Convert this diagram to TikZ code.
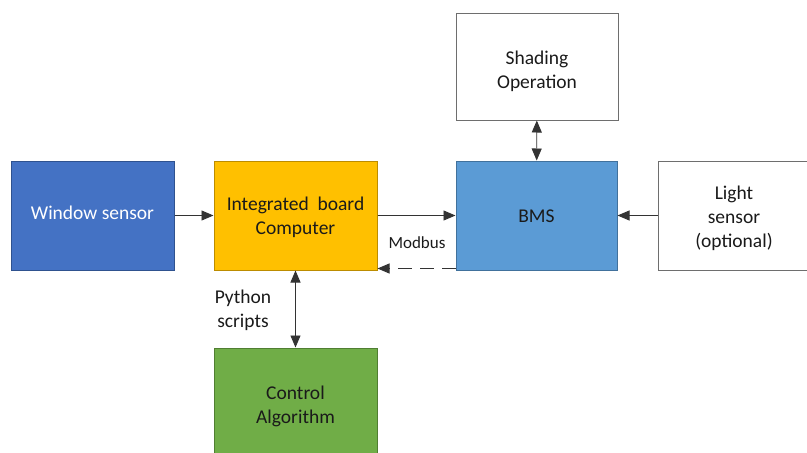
\documentclass[tikz,border=0pt]{standalone}
\usepackage{fontspec}
\setmainfont{Carlito}
\usetikzlibrary{arrows.meta}
\definecolor{winfill}{HTML}{4472C4}
\definecolor{winline}{HTML}{2F528F}
\definecolor{ibcfill}{HTML}{FFC000}
\definecolor{ibcline}{HTML}{BC8C00}
\definecolor{bmsfill}{HTML}{5B9BD5}
\definecolor{bmsline}{HTML}{41719C}
\definecolor{ctlfill}{HTML}{70AD47}
\definecolor{ctlline}{HTML}{507E32}
\definecolor{grayline}{HTML}{6E6E6E}
\definecolor{txt}{HTML}{1A1A1A}
\tikzset{
  blk/.style={draw, line width=1pt, inner sep=0pt},
  conn/.style={line width=0.9pt, draw=black!80, -{Triangle[length=12pt,width=10pt]}},
  bidir/.style={line width=0.9pt, draw=black!80, {Triangle[length=12pt,width=10pt]}-{Triangle[length=12pt,width=10pt]}},
  lbl/.style={inner sep=0pt, align=center, text=txt, font=\fontsize{19.5}{24}\selectfont}
}
\begin{document}
\begin{tikzpicture}[x=1pt,y=-1pt]
\useasboundingbox (0,0) rectangle (807,453);
\node[blk, fill=winfill, draw=winline, minimum width=163pt, minimum height=109pt] (win) at (92.5,215.5) {};
\node[blk, fill=ibcfill, draw=ibcline, minimum width=163pt, minimum height=109pt] (ibc) at (295.5,215.5) {};
\node[blk, fill=bmsfill, draw=bmsline, minimum width=161pt, minimum height=109pt] (bms) at (536.5,215.5) {};
\node[blk, fill=white, draw=grayline, minimum width=162pt, minimum height=107pt] (shd) at (537,66.5) {};
\node[blk, fill=white, draw=grayline, minimum width=152pt, minimum height=109pt] (lgt) at (734,215.5) {};
\node[blk, fill=ctlfill, draw=ctlline, minimum width=163pt, minimum height=112pt] (ctl) at (295.5,404) {};
\node[lbl, text=white] (wint) at ([yshift=3pt]win.center) {Window sensor};
\node[lbl] (ibct) at ([yshift=-2pt]ibc.center) {Integrated\ \ board\\Computer};
\node[lbl] (bmst) at ([yshift=-1pt]bms.center) {BMS};
\node[lbl] (shdt) at ([yshift=-5pt]shd.center) {Shading\\Operation};
\node[lbl] (lgtt) at ([yshift=-3pt]lgt.center) {Light\\sensor\\(optional)};
\node[lbl] (ctlt) at ([yshift=-2pt]ctl.center) {Control\\Algorithm};
\draw[conn] (win) -- (ibc);
\draw[conn] (ibc) -- (bms);
\draw[conn] (lgt) -- (bms);
\draw[conn, dash pattern=on 14pt off 8pt] ([yshift=2pt]bms.south west) -- ([yshift=2pt]ibc.south east);
\draw[bidir] (shd) -- (bms);
\draw[bidir] (ibc) -- (ctl);
\node[lbl, font=\fontsize{17}{20}\selectfont] (mod) at (417,243) {Modbus};
\node[lbl] (py) at (243,310) {Python\\scripts};
\end{tikzpicture}
\end{document}
